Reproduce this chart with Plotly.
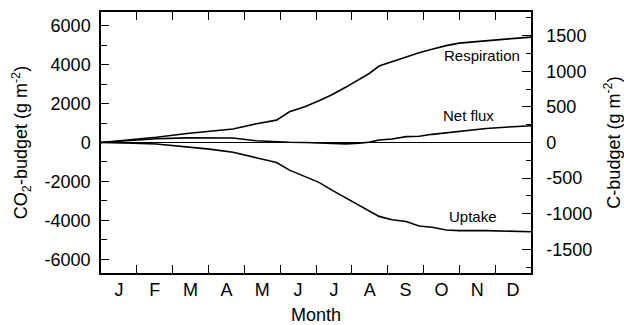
import plotly.graph_objects as go

# ---- data (day of year, CO2 g m-2) ----
days = [0, 12, 27, 47, 73, 92, 112, 132, 149, 160, 173, 185, 196, 208, 219,
        228, 236, 247, 259, 270, 281, 293, 304, 327, 346, 365]
respiration = [0, 60, 140, 270, 460, 560, 690, 960, 1150, 1580, 1840, 2150, 2460,
               2850, 3250, 3560, 3930, 4160, 4410, 4620, 4790, 4980, 5110, 5250,
               5330, 5420]
uptake = [0, -10, -30, -80, -230, -340, -500, -780, -1030, -1420, -1740, -2050,
          -2450, -2850, -3250, -3540, -3800, -3970, -4060, -4290, -4360, -4500,
          -4530, -4530, -4560, -4590]
net_flux = [0, 50, 110, 190, 240, 240, 230, 90, 30, 10, 0, -20, -50, -70, -40,
            20, 130, 180, 300, 320, 420, 500, 580, 720, 800, 860]

months = ["J", "F", "M", "A", "M", "J", "J", "A", "S", "O", "N", "D"]
co2_ticks = [-6000, -4000, -2000, 0, 2000, 4000, 6000]
c_ticks = [-1500, -1000, -500, 0, 500, 1000, 1500]
series_labels = ["Respiration", "Net flux", "Uptake"]
CO2_PER_C = 44.0 / 12.0

FONT = "Liberation Sans, Arial, Helvetica, sans-serif"
month_len = 365.0 / len(months)
month_starts = [i * month_len for i in range(len(months) + 1)]
month_mids = [(i + 0.5) * month_len for i in range(len(months))]

YMAX = 6710

fig = go.Figure()
line = dict(color="black", width=1.6)
for ys in (respiration, net_flux, uptake):
    fig.add_trace(go.Scatter(x=days, y=ys, mode="lines", line=line,
                             showlegend=False, hoverinfo="skip"))
# helper traces so overlay axes render
fig.add_trace(go.Scatter(x=[None], y=[None], xaxis="x", yaxis="y2", showlegend=False))
fig.add_trace(go.Scatter(x=[None], y=[None], xaxis="x3", yaxis="y", showlegend=False))

axis_font = dict(family=FONT, size=18, color="black")

fig.update_layout(
    width=624, height=325,
    margin=dict(l=101, r=93, t=12, b=52),
    paper_bgcolor="white", plot_bgcolor="white",
    font=dict(family=FONT, color="black"),
    xaxis=dict(range=[0, 365], tickvals=month_starts, ticks="inside", ticklen=8,
               tickwidth=1.2, tickcolor="black", showticklabels=False,
               showline=True, linecolor="black", linewidth=1.5, mirror="ticks",
               showgrid=False, zeroline=False, automargin=False),
    xaxis3=dict(range=[0, 365], overlaying="x", anchor="free", position=0,
                side="bottom",
                tickvals=month_mids, ticktext=months, ticks="", showline=False,
                showgrid=False, zeroline=False, tickfont=axis_font,
                ticklabelstandoff=4, automargin=False,
                title=dict(text="Month", font=axis_font, standoff=18)),
    yaxis=dict(range=[-YMAX, YMAX], tickvals=co2_ticks,
               ticktext=[str(v) for v in co2_ticks],
               ticks="inside", ticklen=8, tickwidth=1.2, tickcolor="black",
               minor=dict(tickvals=[-5000, -3000, -1000, 1000, 3000, 5000],
                          ticks="inside", ticklen=6, tickwidth=1.2, tickcolor="black"),
               showline=True, linecolor="black", linewidth=1.5, mirror=False,
               showgrid=False, zeroline=True, zerolinecolor="black", zerolinewidth=1,
               tickfont=axis_font, ticklabelstandoff=5, automargin=False,
               title=dict(text="CO<sub>2</sub>-budget (g m<sup>-2</sup>)",
                          font=axis_font, standoff=12)),
    yaxis2=dict(range=[-YMAX / CO2_PER_C, YMAX / CO2_PER_C], overlaying="y",
                side="right", anchor="x", tickvals=c_ticks,
                ticktext=[str(v) for v in c_ticks],
                ticks="inside", ticklen=9, tickwidth=1.2, tickcolor="black",
                minor=dict(tickvals=[-1750, -1250, -750, -250, 250, 750, 1250, 1750],
                           ticks="inside", ticklen=5, tickwidth=1.2, tickcolor="black"),
                showline=True, linecolor="black", linewidth=1.5,
                showgrid=False, zeroline=False, tickfont=axis_font,
                ticklabelstandoff=10, automargin=False,
                title=dict(text="C-budget (g m<sup>-2</sup>)", font=axis_font,
                           standoff=19)),
)

label_pos = {"Respiration": (357, 4470), "Net flux": (335, 1380), "Uptake": (338, -3780)}
for name in series_labels:
    x, y = label_pos[name]
    fig.add_annotation(x=x, y=y, xref="x", yref="y", text=name, showarrow=False,
                       xanchor="right", yanchor="middle",
                       font=dict(family=FONT, size=15, color="black"))

fig.write_html("out.html")
